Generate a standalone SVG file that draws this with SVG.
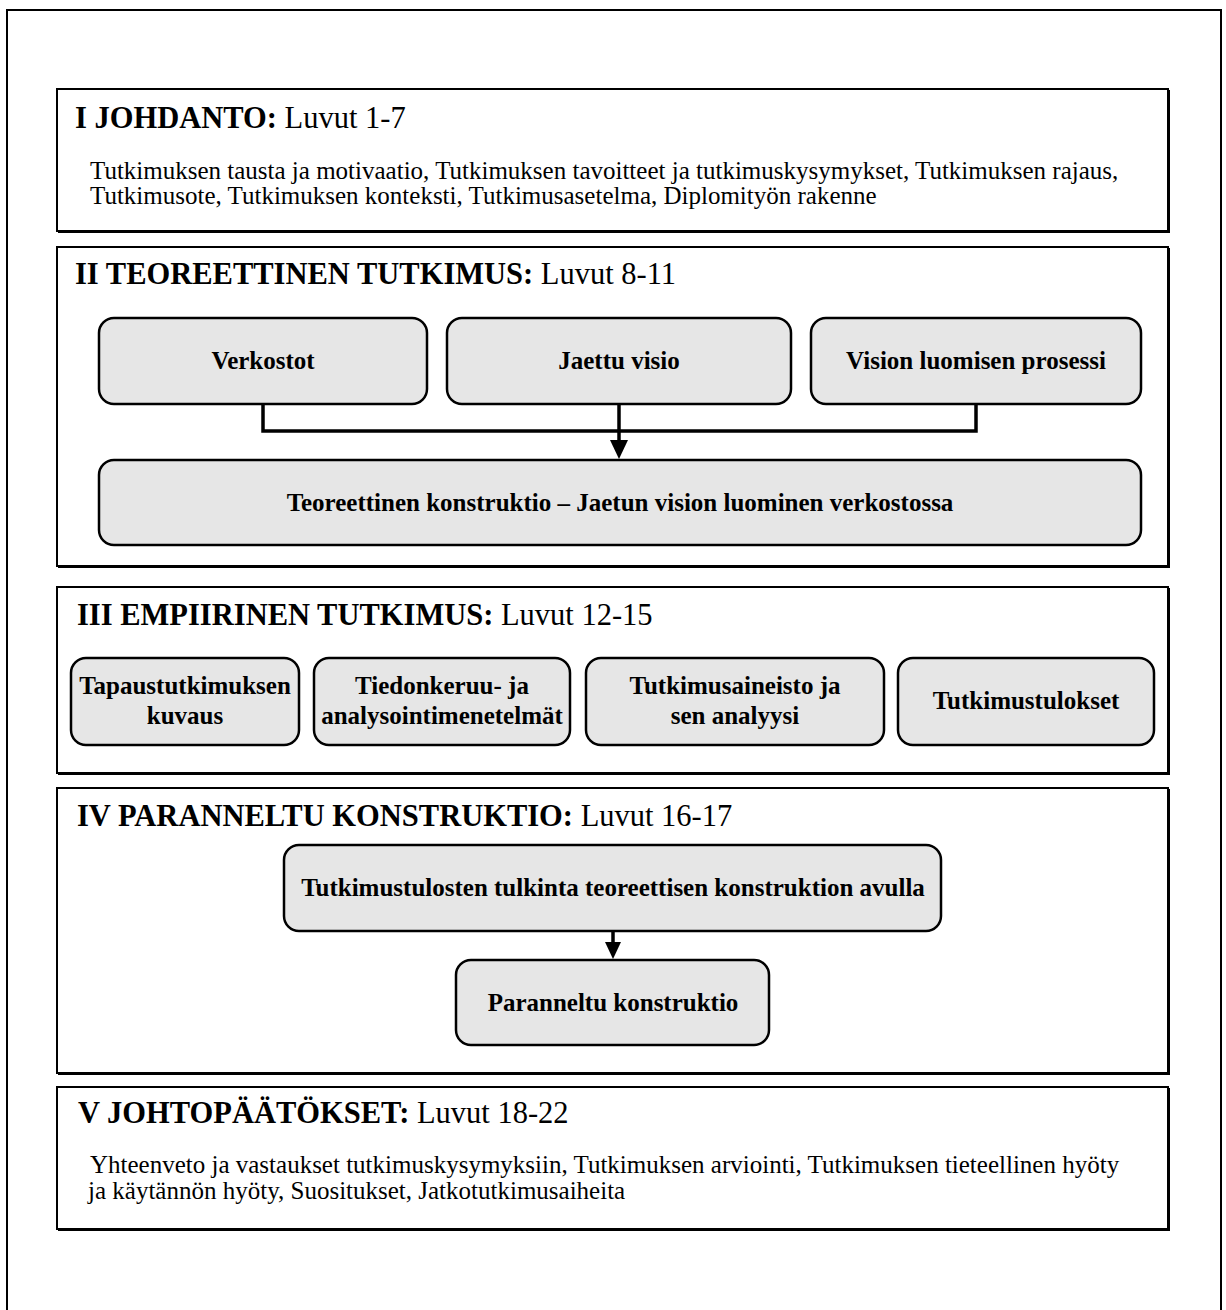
<svg xmlns="http://www.w3.org/2000/svg" width="1226" height="1310" viewBox="0 0 1226 1310">
  <style>
    text { font-family: "Liberation Serif", "Times New Roman", serif; fill: #000; }
    .title { font-size: 30.5px; }
    .b { font-weight: bold; }
    .body { font-size: 25px; }
    .label { font-size: 25px; font-weight: bold; text-anchor: middle; }
    .frame { fill: #fff; stroke: #000; stroke-width: 2; }
    .shade { fill: none; stroke: #000; stroke-width: 2; }
    .node { fill: #e6e6e6; stroke: #000; stroke-width: 2.5; }
    .wire { fill: none; stroke: #000; stroke-width: 3.5; }
    .head { fill: #000; }
  </style>

  <!-- page border -->
  <rect x="7" y="10" width="1214" height="1320" fill="#fff" stroke="#000" stroke-width="2"/>

  <!-- I: introduction -->
  <g id="section-1">
    <rect class="frame" x="57" y="89" width="1111" height="142"/>
    <path class="shade" d="M1169 90 V232 H58"/>
    <text class="title" x="75" y="128"><tspan class="b">I JOHDANTO:</tspan> Luvut 1-7</text>
    <text class="body" x="90" y="179">Tutkimuksen tausta ja motivaatio, Tutkimuksen tavoitteet ja tutkimuskysymykset, Tutkimuksen rajaus,</text>
    <text class="body" x="90" y="204">Tutkimusote, Tutkimuksen konteksti, Tutkimusasetelma, Diplomityön rakenne</text>
  </g>

  <!-- II: theoretical study -->
  <g id="section-2">
    <rect class="frame" x="57" y="247" width="1111" height="319"/>
    <path class="shade" d="M1169 248 V567 H58"/>
    <text class="title" x="75" y="284"><tspan class="b">II TEOREETTINEN TUTKIMUS:</tspan> Luvut 8-11</text>
  </g>
  <g id="verkostot">
    <rect class="node" x="99" y="318" width="328" height="86" rx="15"/>
    <text class="label" x="263" y="369">Verkostot</text>
  </g>
  <g id="jaettu-visio">
    <rect class="node" x="447" y="318" width="344" height="86" rx="15"/>
    <text class="label" x="619" y="369">Jaettu visio</text>
  </g>
  <g id="vision-luominen">
    <rect class="node" x="811" y="318" width="330" height="86" rx="15"/>
    <text class="label" x="976" y="369">Vision luomisen prosessi</text>
  </g>
  <g id="teoreettinen-konstruktio">
    <rect class="node" x="99" y="460" width="1042" height="85" rx="15"/>
    <text class="label" x="620" y="511">Teoreettinen konstruktio – Jaetun vision luominen verkostossa</text>
  </g>

  <!-- III: empirical study -->
  <g id="section-3">
    <rect class="frame" x="57" y="587" width="1111" height="186"/>
    <path class="shade" d="M1169 588 V774 H58"/>
    <text class="title" x="77" y="625"><tspan class="b">III EMPIIRINEN TUTKIMUS:</tspan> Luvut 12-15</text>
  </g>
  <g id="tapaustutkimus">
    <rect class="node" x="71" y="658" width="228" height="87" rx="15"/>
    <text class="label" x="185" y="694">Tapaustutkimuksen</text>
    <text class="label" x="185" y="724">kuvaus</text>
  </g>
  <g id="tiedonkeruu">
    <rect class="node" x="314" y="658" width="256" height="87" rx="15"/>
    <text class="label" x="442" y="694">Tiedonkeruu- ja</text>
    <text class="label" x="442" y="724">analysointimenetelmät</text>
  </g>
  <g id="tutkimusaineisto">
    <rect class="node" x="586" y="658" width="298" height="87" rx="15"/>
    <text class="label" x="735" y="694">Tutkimusaineisto ja</text>
    <text class="label" x="735" y="724">sen analyysi</text>
  </g>
  <g id="tutkimustulokset">
    <rect class="node" x="898" y="658" width="256" height="87" rx="15"/>
    <text class="label" x="1026" y="709">Tutkimustulokset</text>
  </g>

  <!-- IV: improved construct -->
  <g id="section-4">
    <rect class="frame" x="57" y="788" width="1111" height="285"/>
    <path class="shade" d="M1169 789 V1074 H58"/>
    <text class="title" x="77" y="826"><tspan class="b">IV PARANNELTU KONSTRUKTIO:</tspan> Luvut 16-17</text>
  </g>
  <g id="tulkinta">
    <rect class="node" x="284" y="845" width="657" height="86" rx="15"/>
    <text class="label" x="613" y="896">Tutkimustulosten tulkinta teoreettisen konstruktion avulla</text>
  </g>
  <g id="paranneltu-konstruktio">
    <rect class="node" x="456" y="960" width="313" height="85" rx="15"/>
    <text class="label" x="613" y="1011">Paranneltu konstruktio</text>
  </g>

  <!-- V: conclusions -->
  <g id="section-5">
    <rect class="frame" x="57" y="1087" width="1111" height="142"/>
    <path class="shade" d="M1169 1088 V1230 H58"/>
    <text class="title" x="78" y="1123"><tspan class="b">V JOHTOPÄÄTÖKSET:</tspan> Luvut 18-22</text>
    <text class="body" x="90" y="1173">Yhteenveto ja vastaukset tutkimuskysymyksiin, Tutkimuksen arviointi, Tutkimuksen tieteellinen hyöty</text>
    <text class="body" x="88" y="1199">ja käytännön hyöty, Suositukset, Jatkotutkimusaiheita</text>
  </g>

  <!-- connectors -->
  <g id="connectors">
    <path class="wire" d="M263 404 V431 H976 V404"/>
    <path class="wire" d="M619 404 V442"/>
    <polygon class="head" points="610,440 628,440 619,459"/>
    <path class="wire" d="M613 931 V944"/>
    <polygon class="head" points="605,942 621,942 613,959"/>
  </g>
</svg>
